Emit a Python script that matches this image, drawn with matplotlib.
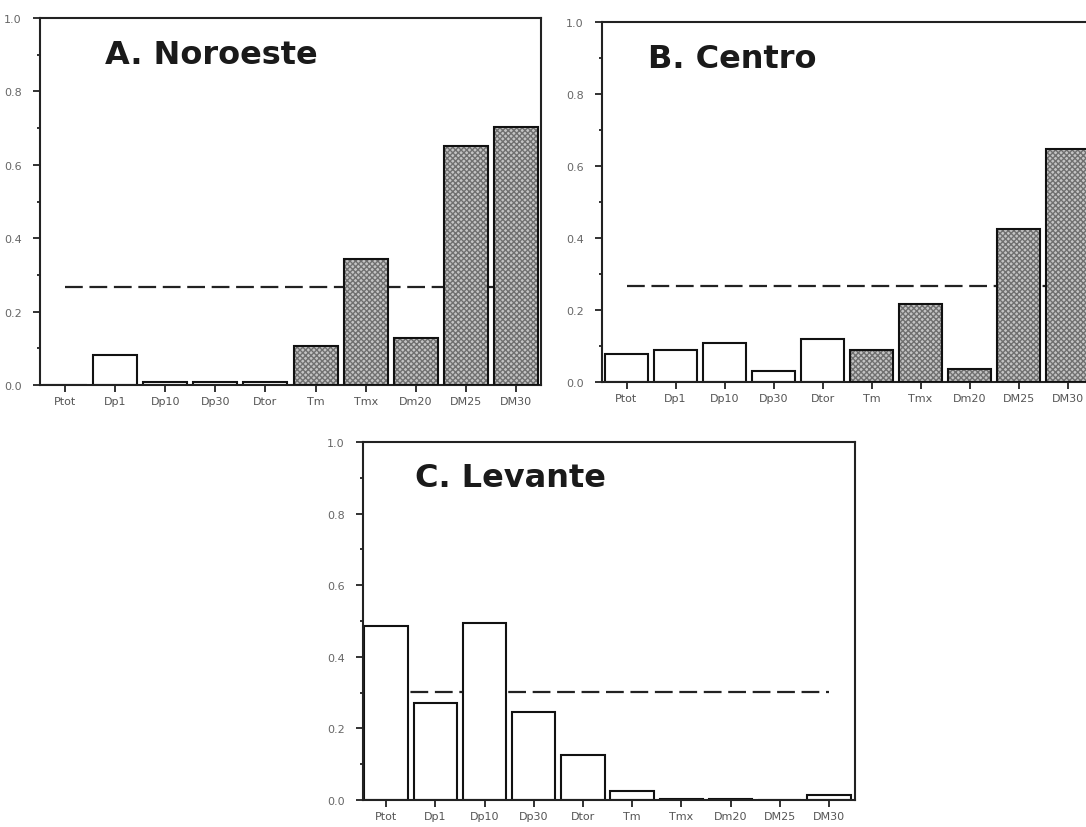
import matplotlib
matplotlib.use("Agg")
import matplotlib.pyplot as plt
import numpy as np

# --- data ---
variables = ["Ptot", "Dp1", "Dp10", "Dp30", "Dtor", "Tm", "Tmx", "Dm20", "DM25", "DM30"]

noroeste = [0.0, 0.081, 0.008, 0.008, 0.008, 0.106, 0.343, 0.129, 0.650, 0.703]
centro = [0.078, 0.090, 0.107, 0.030, 0.119, 0.090, 0.218, 0.036, 0.425, 0.648]
levante = [0.487, 0.272, 0.494, 0.246, 0.126, 0.026, 0.004, 0.004, 0.0, 0.015]

# significance threshold (dashed line)
umbral_noroeste = 0.266
umbral_centro = 0.267
umbral_levante = 0.302

# which bars are stippled (temperature variables in A and B)
stipple_noroeste = [False] * 5 + [True] * 5
stipple_centro = [False] * 5 + [True] * 5
stipple_levante = [False] * 10

panels = [
    ("A. Noroeste", noroeste, umbral_noroeste, stipple_noroeste,
     [40 / 1086, 1 - 386 / 828, 501 / 1086, 367 / 828], (-0.5, 9.5), 0.13),
    ("B. Centro", centro, umbral_centro, stipple_centro,
     [602 / 1086, 1 - 383 / 828, 490 / 1086, 360 / 828], (-0.5, 9.5), 0.094),
    ("C. Levante", levante, umbral_levante, stipple_levante,
     [363 / 1086, 1 - 801 / 828, 492 / 1086, 358 / 828], (-0.47, 9.53), 0.106),
]

fig = plt.figure(figsize=(10.86, 8.28), dpi=100)

for title, values, umbral, stipple, rect, xlim, tx in panels:
    ax = fig.add_axes(rect)
    x = np.arange(len(variables))
    values = np.array(values)
    stipple = np.array(stipple)

    # dashed threshold line, behind the bars
    ax.plot([0, 9], [umbral, umbral], color="#222222", lw=1.6,
            linestyle=(0, (8, 3)), zorder=1)

    # white bars
    ax.bar(x[~stipple], values[~stipple], width=0.88, facecolor="white",
           edgecolor="#111111", linewidth=1.5, zorder=2)
    # stippled bars: grey fill + dense cross hatch, then black outline
    if stipple.any():
        ax.bar(x[stipple], values[stipple], width=0.88, facecolor="#c4c4c4",
               edgecolor="#707070", hatch="xxxxxx", linewidth=0, zorder=2)
        ax.bar(x[stipple], values[stipple], width=0.88, facecolor="none",
               edgecolor="#111111", linewidth=1.5, zorder=3)

    ax.set_xlim(*xlim)
    ax.set_ylim(0, 1.0)
    ax.set_xticks(x)
    ax.set_xticklabels(variables, fontsize=8, color="#555555")
    ax.set_yticks([0.0, 0.2, 0.4, 0.6, 0.8, 1.0])
    ax.set_yticklabels(["0.0", "0.2", "0.4", "0.6", "0.8", "1.0"],
                       fontsize=8, color="#666666")
    ax.set_yticks(np.arange(0.1, 1.0, 0.2), minor=True)
    ax.tick_params(axis="x", which="major", direction="out", length=5,
                   width=1.3, color="#222222", pad=3)
    ax.tick_params(axis="y", which="major", direction="out", length=5,
                   width=1.3, color="#222222", pad=8)
    ax.tick_params(axis="y", which="minor", direction="out", length=2,
                   width=1.3, color="#222222")
    for s in ax.spines.values():
        s.set_linewidth(1.5)
        s.set_color("#222222")

    ax.text(tx, 0.90, title, transform=ax.transAxes, fontsize=23,
            fontweight="bold", family="DejaVu Sans", color="#1a1a1a",
            ha="left", va="center")

fig.savefig("out.png", dpi=100, facecolor="white")
